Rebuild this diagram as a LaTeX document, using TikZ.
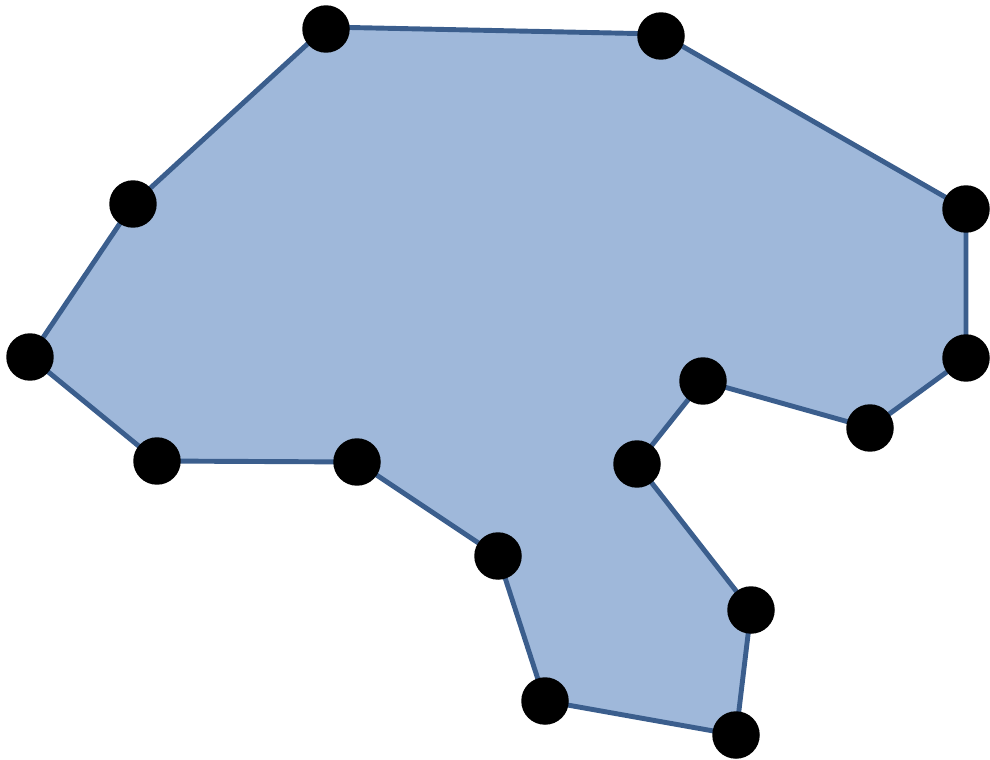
\documentclass[tikz,border=0pt]{standalone}
\definecolor{polyfill}{HTML}{9FB8DA}
\definecolor{polyline}{HTML}{3B5E8D}
\tikzset{
  vdot/.style={circle,fill=black,inner sep=0pt,minimum size=0.95cm},
  edge/.style={draw=polyline,line width=2.8pt,line join=round,fill=polyfill}
}
\begin{document}
\begin{tikzpicture}[x=0.02cm,y=-0.02cm]
\useasboundingbox (0,0) rectangle (990,760);
\coordinate (p1) at (326,27);
\coordinate (p2) at (661,34);
\coordinate (p3) at (966,209);
\coordinate (p4) at (966,358);
\coordinate (p5) at (870,428);
\coordinate (p6) at (703,381);
\coordinate (p7) at (637,464);
\coordinate (p8) at (751,610);
\coordinate (p9) at (736,735);
\coordinate (p10) at (545,701);
\coordinate (p11) at (498,556);
\coordinate (p12) at (357,462);
\coordinate (p13) at (157,461);
\coordinate (p14) at (30,357);
\coordinate (p15) at (133,204);
\path[edge] (p1) -- (p2) -- (p3) -- (p4) -- (p5) -- (p6) -- (p7) -- (p8) -- (p9) -- (p10) -- (p11) -- (p12) -- (p13) -- (p14) -- (p15) -- cycle;
\node[vdot] (d1) at (326,29) {};
\node[vdot] (d2) at (661,36) {};
\foreach \i in {3,...,15} {
  \node[vdot] (d\i) at (p\i) {};
}
\end{tikzpicture}
\end{document}
